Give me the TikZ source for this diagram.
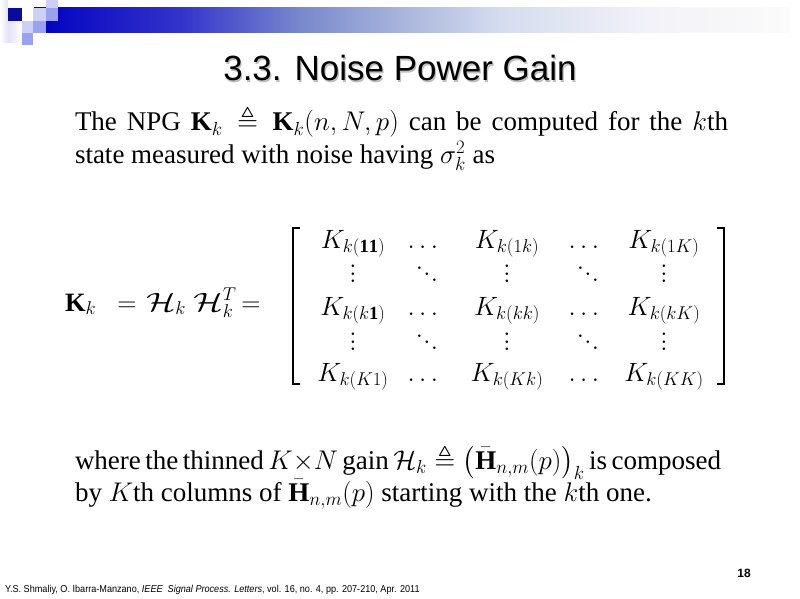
\RequirePackage{fix-cm}
\documentclass[tikz,border=0pt]{standalone}
\usepackage{amsmath,amssymb}
\usepackage{fontspec}
\setmainfont{Liberation Serif}
\newfontfamily\arialf{Liberation Sans}
\definecolor{bz}{HTML}{0000C0}
\definecolor{ba}{HTML}{3333CC}
\definecolor{bb}{HTML}{7788CC}
\definecolor{bc}{HTML}{A8B4DC}
\definecolor{bd}{HTML}{D4DCEE}
\definecolor{be}{HTML}{F2F2F8}
\definecolor{bf}{HTML}{FBFBFB}
\definecolor{sqdark}{HTML}{0A0A9C}
\definecolor{sqlight}{HTML}{CCD0F5}
\definecolor{sqmed}{HTML}{9AA2F0}
\definecolor{sqpale}{HTML}{E2E2F8}
\pgfdeclarehorizontalshading{barshade}{100bp}{color(0bp)=(bz); color(25bp)=(bz); color(34.7bp)=(ba); color(42.6bp)=(bb); color(49.2bp)=(bc); color(55.8bp)=(bd); color(65.7bp)=(be); color(75bp)=(bf); color(100bp)=(bf)}
\newcommand\myvdots{\vbox{\offinterlineskip\hbox{$.$}\kern4.8pt\hbox{$.$}\kern4.8pt\hbox{$.$}}}
\newcommand\myddots{\vbox{\offinterlineskip\hbox{$.$}\kern3.6pt\hbox{\kern7.5pt$.$}\kern3.6pt\hbox{\kern15pt$.$}}}
\newcommand\wideH{\scalebox{1.3}[1]{$\mathcal{H}$}}
\tikzset{
  txt/.style={inner sep=0pt, outer sep=0pt, anchor=base west, font=\fontsize{27}{32}\selectfont},
  mtx/.style={inner sep=0pt, outer sep=0pt, anchor=base, font=\fontsize{26.5}{30}\selectfont},
  dts/.style={inner sep=0pt, outer sep=0pt, anchor=center, font=\fontsize{26.5}{30}\selectfont},
  brk/.style={line width=1.1pt, black},
}
\begin{document}
\begin{tikzpicture}[x=1pt,y=-1pt]
\useasboundingbox (0,0) rectangle (800,599);
\fill[white] (0,0) rectangle (800,599);
% header decoration
\shade[shading=barshade] (34,8) rectangle (790,33);
\shade[left color=white, right color=sqpale] (0,0) rectangle (8,43);
\shade[left color=sqpale, right color=white] (8,21) rectangle (22,43);
\fill[sqdark] (8,8) rectangle (22,21);
\fill[sqlight] (33,8) rectangle (46,21);
\fill[sqlight] (46,0) rectangle (58,8);
\fill[sqmed] (46,8) rectangle (58,21);
\fill[sqlight] (22,21) rectangle (33,33);
\fill[sqmed] (33,21) rectangle (46,33);
\fill[sqmed] (22,33) rectangle (33,45);
% title
\node[inner sep=0pt, anchor=base, text=black!25, font=\arialf\fontsize{35}{40}\selectfont] (titleshadow) at (401.2,82.2) {3.3. Noise Power Gain};
\node[inner sep=0pt, anchor=base, font=\arialf\fontsize{35}{40}\selectfont] (title) at (400,81) {3.3. Noise Power Gain};
% first paragraph
\node[txt] (l1) at (75,131) {\makebox[653pt][s]{The NPG $\mathbf{K}_k \triangleq \mathbf{K}_k(n,N,p)$ can be computed for the $k$th}};
\node[txt] (l2) at (75,163) {state measured with noise having $\sigma_k^2$ as};
% equation left part
\node[mtx, anchor=base west] (Kk) at (65,311) {$\mathbf{K}_k$};
\node[mtx] (eqa) at (127,311) {$=$};
\node[mtx, anchor=base west] (HH) at (146,311) {$\wideH_k\;\wideH_k^T$};
\node[mtx] (eqb) at (251,311) {$=$};
% brackets
\coordinate (bl1) at (300,228); \coordinate (bl2) at (293,228);
\coordinate (bl3) at (293,384); \coordinate (bl4) at (300,384);
\draw[brk] (bl1) -- (bl2) -- (bl3) -- (bl4);
\coordinate (br1) at (717,228); \coordinate (br2) at (724,228);
\coordinate (br3) at (724,384); \coordinate (br4) at (717,384);
\draw[brk] (br1) -- (br2) -- (br3) -- (br4);
% matrix row 1
\node[mtx] (m11) at (353,248) {$K_{k(\mathbf{11})}$};
\node[mtx] (m12) at (425,248) {$\dots$};
\node[mtx] (m13) at (507,248) {$K_{k(1k)}$};
\node[mtx] (m14) at (586,248) {$\dots$};
\node[mtx] (m15) at (664,248) {$K_{k(1K)}$};
% row 2
\node[dts] (m21) at (353,274) {\myvdots};
\node[dts] (m22) at (427,274) {\myddots};
\node[dts] (m23) at (507,274) {\myvdots};
\node[dts] (m24) at (588,274) {\myddots};
\node[dts] (m25) at (664,274) {\myvdots};
% row 3
\node[mtx] (m31) at (353,315) {$K_{k(k\mathbf{1})}$};
\node[mtx] (m32) at (425,315) {$\dots$};
\node[mtx] (m33) at (507,315) {$K_{k(kk)}$};
\node[mtx] (m34) at (586,315) {$\dots$};
\node[mtx] (m35) at (664,315) {$K_{k(kK)}$};
% row 4
\node[dts] (m41) at (353,342) {\myvdots};
\node[dts] (m42) at (427,342) {\myddots};
\node[dts] (m43) at (507,342) {\myvdots};
\node[dts] (m44) at (588,342) {\myddots};
\node[dts] (m45) at (664,342) {\myvdots};
% row 5
\node[mtx] (m51) at (353,381) {$K_{k(K1)}$};
\node[mtx] (m52) at (425,381) {$\dots$};
\node[mtx] (m53) at (507,381) {$K_{k(Kk)}$};
\node[mtx] (m54) at (586,381) {$\dots$};
\node[mtx] (m55) at (664,381) {$K_{k(KK)}$};
% second paragraph
\node[txt] (l3) at (75,469) {\makebox[643pt][s]{where the thinned $K{\times}N$ gain $\mathcal{H}_k \triangleq \big(\bar{\mathbf{H}}_{n,m}(p)\big)_k$ is composed}};
\node[txt] (l4) at (75,501) {by $K$th columns of $\bar{\mathbf{H}}_{n,m}(p)$ starting with the $k$th one.};
% footer
\node[inner sep=0pt, anchor=base, font=\arialf\bfseries\fontsize{12}{14}\selectfont] (pnum) at (744,577) {18};
\node[inner sep=0pt, anchor=base west, font=\arialf\fontsize{10}{12}\selectfont] (ref) at (5,592) {\scalebox{0.91}[1]{Y.S. Shmaliy, O. Ibarra-Manzano, \textit{IEEE\ \ Signal Process. Letters}, vol. 16, no. 4, pp. 207-210, Apr. 2011}};
\end{tikzpicture}
\end{document}
